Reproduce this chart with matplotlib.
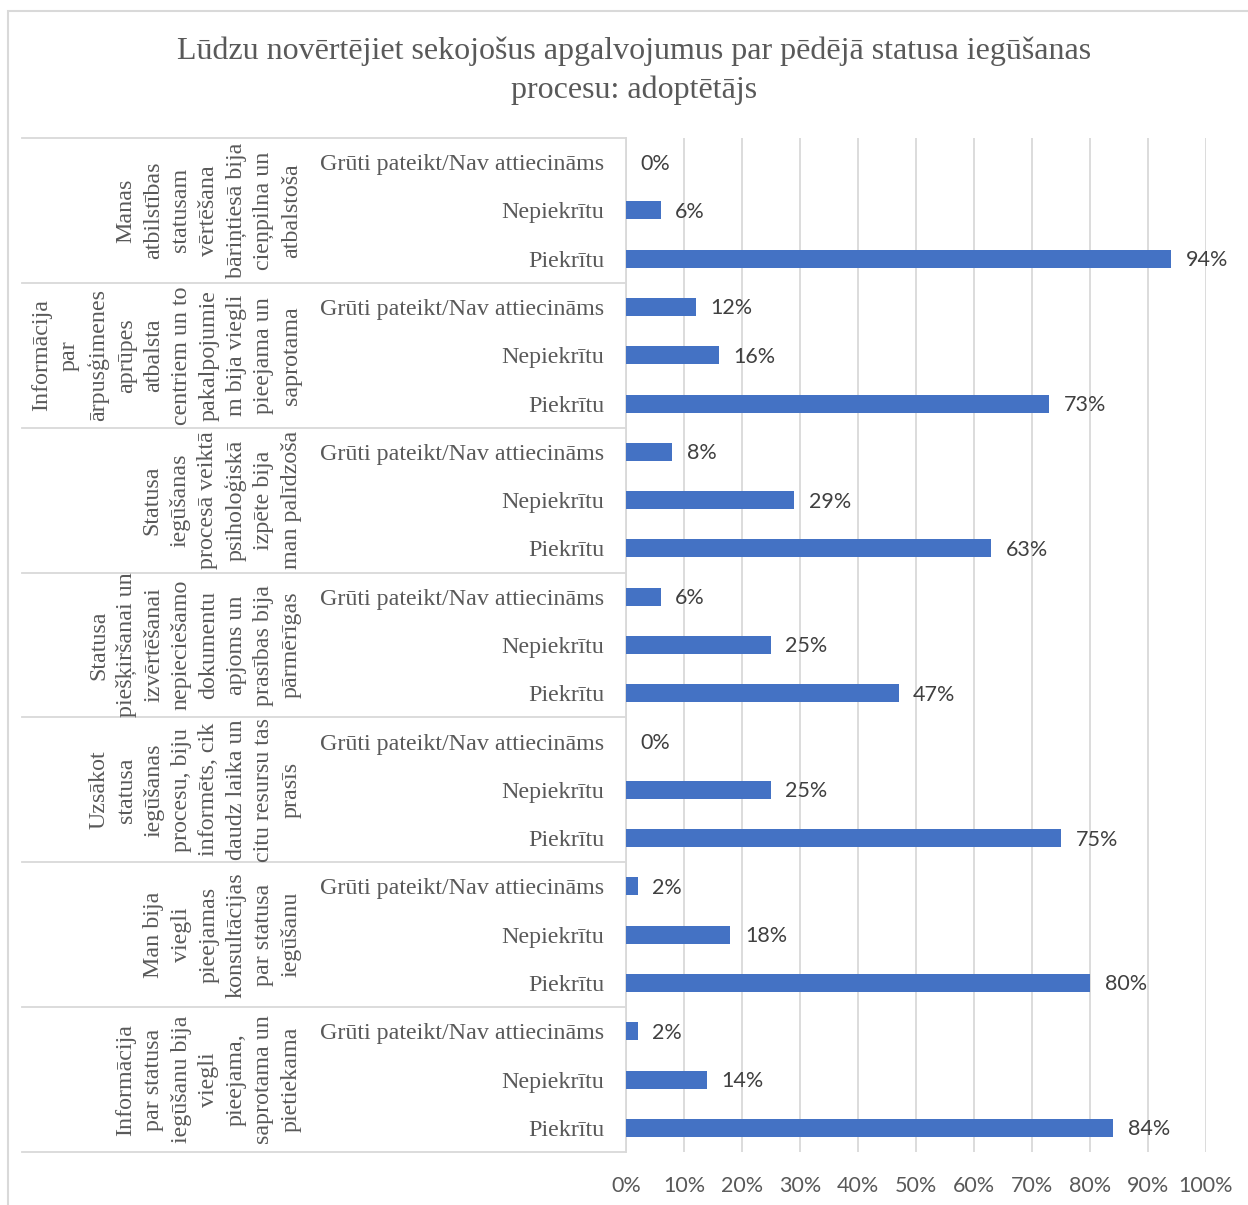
import numpy as np
import matplotlib.pyplot as plt
from matplotlib.patches import Rectangle
import matplotlib.transforms as mtransforms

# Données
title = "Lūdzu novērtējiet sekojošus apgalvojumus par pēdējā statusa iegūšanas\nprocesu: adoptētājs"

groups = [
    "Manas\natbilstības\nstatusam\nvērtēšana\nbāriņtiesā bija\ncieņpilna un\natbalstoša",
    "Informācija\npar\nārpusģimenes\naprūpes\natbalsta\ncentriem un to\npakalpojumie\nm bija viegli\npieejama un\nsaprotama",
    "Statusa\niegūšanas\nprocesā veiktā\npsiholoģiskā\nizpēte bija\nman palīdzoša",
    "Statusa\npiešķiršanai un\nizvērtēšanai\nnepieciešamo\ndokumentu\napjoms un\nprasības bija\npārmērīgas",
    "Uzsākot\nstatusa\niegūšanas\nprocesu, biju\ninformēts, cik\ndaudz laika un\ncitu resursu tas\nprasīs",
    "Man bija\nviegli\npieejamas\nkonsultācijas\npar statusa\niegūšanu",
    "Informācija\npar statusa\niegūšanu bija\nviegli\npieejama,\nsaprotama un\npietiekama",
]
answers = ["Grūti pateikt/Nav attiecināms", "Nepiekrītu", "Piekrītu"]

# valeurs (%) : Grūti, Nepiekrītu, Piekrītu
gruti = [0, 12, 8, 6, 0, 2, 2]
nepiekritu = [6, 16, 29, 25, 25, 18, 14]
piekritu = [94, 73, 63, 47, 75, 80, 84]

x_ticks = [0, 10, 20, 30, 40, 50, 60, 70, 80, 90, 100]

W, H = 1248, 1205
fig = plt.figure(figsize=(W / 100, H / 100), dpi=100)

# cadre extérieur
fig.patches.append(Rectangle((8 / W, -0.1), 1.2, 1 - 11 / H + 0.1,
                             transform=fig.transFigure, fill=False,
                             edgecolor="#D9D9D9", linewidth=1.5))

ax = fig.add_axes([626 / W, 1 - 1152 / H, 580 / W, (1152 - 138) / H])

values = []
labels = []
for i in range(len(groups)):
    values += [gruti[i], nepiekritu[i], piekritu[i]]
    labels += answers
values = np.array(values)
y = np.arange(len(values))

ax.barh(y, values, height=0.37, color="#4472C4", zorder=3)
for yi, v in zip(y, values):
    ax.text(v + 2.5, yi + 0.03, f"{v}%", va="center", ha="left",
            fontsize=15.5, family="Lato", color="#404040")

ax.set_xlim(0, 100)
ax.set_ylim(len(values) - 0.5, -0.5)
ax.set_xticks(x_ticks)
ax.set_xticklabels([f"{t}%" for t in x_ticks], family="Lato", fontsize=15.5, color="#595959")
ax.set_yticks(y)
ax.set_yticklabels(labels, family="Liberation Serif", fontsize=17.3, color="#595959")
ax.tick_params(axis="both", length=0)
ax.tick_params(axis="y", pad=15.5)
ax.tick_params(axis="x", pad=17)

ax.grid(axis="x", color="#D9D9D9", linewidth=1.3, zorder=0)
for s in ["top", "right", "bottom"]:
    ax.spines[s].set_visible(False)
ax.spines["left"].set_color("#D9D9D9")
ax.spines["left"].set_linewidth(1.3)

# séparateurs et étiquettes de groupes
trans = mtransforms.blended_transform_factory(fig.transFigure, ax.transData)
for k in range(len(groups) + 1):
    yb = 3 * k - 0.5
    ax.plot([22 / W, 626 / W], [yb, yb], transform=trans, color="#D9D9D9",
            linewidth=1.3, clip_on=False)
for k, g in enumerate(groups):
    ax.text(302 / W, 3 * k + 1, g, transform=trans, rotation=90,
            ha="right", va="center", multialignment="center",
            family="Liberation Serif", fontsize=17.3, color="#595959",
            linespacing=1.41)

fig.text(634 / W, 1 - 71 / H, title, ha="center", va="center",
         family="Liberation Serif", fontsize=23, color="#595959",
         linespacing=1.42)

fig.savefig("out.png", dpi=100)
